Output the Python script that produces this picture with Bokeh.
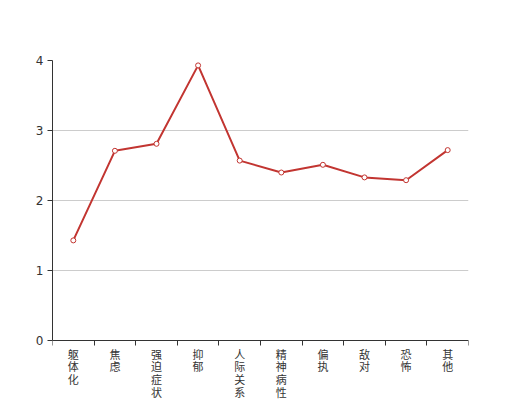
from bokeh.plotting import figure
from bokeh.models import FixedTicker, Range1d, ColumnDataSource
from bokeh.core.properties import value
from bokeh.embed import file_html
from bokeh.resources import INLINE

categories = ["躯体化", "焦虑", "强迫症状", "抑郁", "人际关系敏感", "精神病性", "偏执", "敌对", "恐怖", "其他"]
values = [1.43, 2.71, 2.81, 3.93, 2.57, 2.40, 2.51, 2.33, 2.29, 2.72]
y_ticks = [0, 1, 2, 3, 4]

n = len(categories)
xs = [i + 0.5 for i in range(n)]
src = ColumnDataSource(dict(x=xs, y=values))
lab_src = ColumnDataSource(dict(x=xs, y=[0] * n, label=["\n".join(list(c)) for c in categories]))

# frame runs to the bottom of the canvas; value axis occupies the upper 280 px,
# the lower 60 px hold the category labels
W, H, TOP, LEFT, RIGHT, PLOT_H = 520, 400, 60, 52, 52, 280
y_max = 4
y_min = -y_max * (H - TOP - PLOT_H) / PLOT_H

p = figure(width=W, height=H, output_backend="svg", toolbar_location=None,
           x_range=Range1d(0, n), y_range=Range1d(y_min, y_max),
           min_border_left=LEFT, min_border_right=RIGHT, min_border_top=TOP, min_border_bottom=0)
p.outline_line_color = None
p.background_fill_color = "white"
p.border_fill_color = "white"

p.xgrid.visible = False
p.ygrid.grid_line_color = "#cccccc"
p.ygrid.ticker = FixedTicker(ticks=y_ticks)

p.yaxis.ticker = FixedTicker(ticks=y_ticks)
p.yaxis.bounds = (0, y_max)
p.yaxis.axis_line_color = "#333333"
p.yaxis.major_tick_line_color = "#333333"
p.yaxis.major_tick_in = 0
p.yaxis.major_tick_out = 5
p.yaxis.minor_tick_line_color = None
p.yaxis.major_label_text_font = "DejaVu Sans"
p.yaxis.major_label_text_font_size = "12px"
p.yaxis.major_label_text_color = "#333333"
p.yaxis.major_label_standoff = 4

p.xaxis.fixed_location = 0
p.xaxis.ticker = FixedTicker(ticks=[], minor_ticks=list(range(n + 1)))
p.xaxis.axis_line_color = "#333333"
p.xaxis.major_tick_line_color = None
p.xaxis.minor_tick_line_color = "#333333"
p.xaxis.minor_tick_in = 0
p.xaxis.minor_tick_out = 5

p.line("x", "y", source=src, line_color="#c23531", line_width=2)
p.scatter("x", "y", source=src, size=5, fill_color="white", line_color="#c23531", line_width=1)

p.text("x", "y", text="label", source=lab_src, text_align="center", text_baseline="top",
       y_offset=5, text_font=value("Noto Sans CJK SC"), text_font_size="11px",
       text_color="#333333", text_line_height=0.8)

open("out.html", "w").write(file_html(p, INLINE))
